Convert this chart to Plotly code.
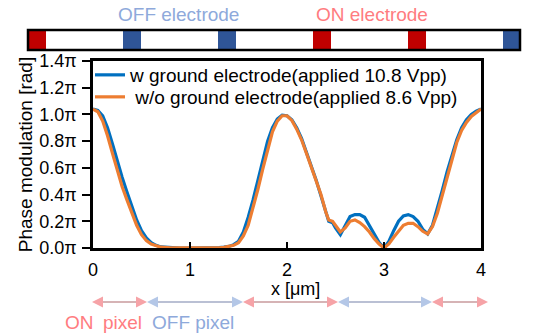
import plotly.graph_objects as go

# Position along the device [um]
x_um = [0.00, 0.05, 0.10, 0.15, 0.20, 0.25, 0.30, 0.35, 0.40, 0.45,
        0.50, 0.55, 0.60, 0.65, 0.70, 0.80, 0.90, 1.00, 1.10, 1.20,
        1.30, 1.35, 1.40, 1.45, 1.50, 1.55, 1.60, 1.65, 1.70, 1.75,
        1.80, 1.85, 1.90, 1.95, 2.00, 2.05, 2.10, 2.15, 2.20, 2.25,
        2.30, 2.35, 2.40, 2.43, 2.47, 2.50, 2.55, 2.60, 2.65, 2.70,
        2.75, 2.80, 2.85, 2.90, 2.95, 3.00, 3.05, 3.10, 3.15, 3.20,
        3.25, 3.30, 3.35, 3.40, 3.45, 3.50, 3.55, 3.60, 3.65, 3.70,
        3.75, 3.80, 3.85, 3.90, 3.95, 4.00]

# Phase modulation in units of pi
phase_with_ground = [1.04, 1.03, 0.99, 0.90, 0.78, 0.65, 0.53, 0.42, 0.31, 0.21,
                     0.13, 0.075, 0.04, 0.02, 0.008, 0.002, 0.0, 0.0, 0.0, 0.0,
                     0.003, 0.006, 0.012, 0.025, 0.05, 0.12, 0.23, 0.36, 0.50, 0.66,
                     0.80, 0.90, 0.965, 0.995, 0.99, 0.96, 0.90, 0.82, 0.72, 0.62,
                     0.51, 0.39, 0.26, 0.20, 0.19, 0.15, 0.10, 0.17, 0.235, 0.25,
                     0.25, 0.23, 0.17, 0.10, 0.04, 0.0, 0.05, 0.13, 0.20, 0.24,
                     0.25, 0.235, 0.20, 0.14, 0.105, 0.17, 0.29, 0.43, 0.57, 0.70,
                     0.81, 0.90, 0.96, 1.00, 1.025, 1.04]

phase_without_ground = [1.04, 1.02, 0.95, 0.84, 0.71, 0.58, 0.46, 0.36, 0.26, 0.17,
                        0.10, 0.055, 0.03, 0.015, 0.006, 0.001, 0.0, 0.0, 0.0, 0.0,
                        0.002, 0.005, 0.01, 0.02, 0.04, 0.09, 0.17, 0.30, 0.44, 0.59,
                        0.74, 0.87, 0.95, 0.99, 0.99, 0.955, 0.89, 0.81, 0.71, 0.61,
                        0.51, 0.40, 0.27, 0.21, 0.20, 0.17, 0.12, 0.15, 0.20, 0.21,
                        0.19, 0.16, 0.12, 0.07, 0.03, 0.0, 0.03, 0.08, 0.13, 0.17,
                        0.185, 0.185, 0.16, 0.125, 0.105, 0.16, 0.26, 0.39, 0.53, 0.67,
                        0.79, 0.88, 0.94, 0.985, 1.015, 1.04]

series_names = ["w ground electrode(applied 10.8 Vpp)",
                " w/o ground electrode(applied 8.6 Vpp)"]

y_ticks = [0.0, 0.2, 0.4, 0.6, 0.8, 1.0, 1.2, 1.4]
x_ticks = [0, 1, 2, 3, 4]

# Electrode sequence in the strip above the plot
electrode_states = ["ON", "OFF", "OFF", "ON", "ON", "OFF"]
# Pixel sequence marked by the arrows below the axis
pixel_states = ["ON", "OFF", "ON", "OFF", "ON"]

W, H = 542, 336
ML, MR, MT, MB = 93, 61, 61, 88
PW, PH = W - ML - MR, H - MT - MB


def px_x(p):
    return (p - ML) / PW


def px_y(p):
    return (H - MB - p) / PH


BLUE = "#0070C0"
ORANGE = "#ED7D31"
ON_RED = "#C00000"
OFF_BLUE = "#2F5597"
ON_TEXT = "#FF7C80"
OFF_TEXT = "#8EA9DB"

fig = go.Figure()
fig.add_trace(go.Scatter(x=x_um, y=phase_with_ground, mode="lines",
                         name=series_names[0], legend="legend",
                         line=dict(color=BLUE, width=3.2)))
fig.add_trace(go.Scatter(x=x_um, y=phase_without_ground, mode="lines",
                         name=series_names[1], legend="legend2",
                         line=dict(color=ORANGE, width=3.2)))

shapes = []
# electrode strip
strip_l, strip_r, strip_t, strip_b = 28, 520, 30, 50
pitch, ew = 95, 18
for i, st in enumerate(electrode_states):
    l = strip_l + i * pitch
    shapes.append(dict(type="rect", xref="paper", yref="paper",
                       x0=px_x(l), x1=px_x(min(l + ew, strip_r)),
                       y0=px_y(strip_b), y1=px_y(strip_t),
                       fillcolor=ON_RED if st == "ON" else OFF_BLUE,
                       line=dict(width=0), layer="above"))
shapes.append(dict(type="rect", xref="paper", yref="paper",
                   x0=px_x(strip_l), x1=px_x(strip_r),
                   y0=px_y(strip_b), y1=px_y(strip_t),
                   line=dict(color="black", width=2.5), layer="above"))

# pixel arrows
bounds = [92, 147, 243, 338, 432, 488]
ay = 302
head_l, head_h = 11, 5.5
for i, st in enumerate(pixel_states):
    a, b = bounds[i], bounds[i + 1]
    lc = "#C99A9C" if st == "ON" else "#A3ABC6"
    hc = "#F6A3A7" if st == "ON" else "#B4C7E7"
    shapes.append(dict(type="line", xref="paper", yref="paper",
                       x0=px_x(a + 2), x1=px_x(b - 2), y0=px_y(ay), y1=px_y(ay),
                       line=dict(color=lc, width=1.5)))
    left_head = "M {} {} L {} {} L {} {} Z".format(
        px_x(a), px_y(ay), px_x(a + head_l), px_y(ay - head_h),
        px_x(a + head_l), px_y(ay + head_h))
    right_head = "M {} {} L {} {} L {} {} Z".format(
        px_x(b), px_y(ay), px_x(b - head_l), px_y(ay - head_h),
        px_x(b - head_l), px_y(ay + head_h))
    for p in (left_head, right_head):
        shapes.append(dict(type="path", xref="paper", yref="paper", path=p,
                           fillcolor=hc, line=dict(width=0)))

font_main = "Arial, Liberation Sans, sans-serif"
annotations = [
    dict(text="OFF electrode", x=px_x(178), y=px_y(15), font=dict(size=19, color=OFF_TEXT)),
    dict(text="ON electrode", x=px_x(372), y=px_y(15), font=dict(size=19, color=ON_TEXT)),
    dict(text="ON", x=px_x(79), y=px_y(322), font=dict(size=19, color=ON_TEXT)),
    dict(text="pixel", x=px_x(122), y=px_y(322), font=dict(size=19, color=ON_TEXT)),
    dict(text="OFF pixel", x=px_x(193), y=px_y(322), font=dict(size=19, color=OFF_TEXT)),
    dict(text="x [μm]", x=px_x(295), y=px_y(289), font=dict(size=18)),
]
for an in annotations:
    an.update(xref="paper", yref="paper", showarrow=False,
              xanchor="center", yanchor="middle")

legend_style = dict(xanchor="left", yanchor="middle", bgcolor="rgba(0,0,0,0)",
                    font=dict(size=19), itemwidth=30, borderwidth=0)

fig.update_layout(
    width=W, height=H,
    margin=dict(l=ML, r=MR, t=MT, b=MB, pad=0),
    paper_bgcolor="white", plot_bgcolor="white",
    font=dict(family=font_main, color="black"),
    showlegend=True,
    legend=dict(x=px_x(90), y=px_y(75), **legend_style),
    legend2=dict(x=px_x(90), y=px_y(97), **legend_style),
    shapes=shapes,
    annotations=annotations,
    xaxis=dict(range=[0, 4], tickvals=x_ticks, ticktext=[str(v) for v in x_ticks],
               showline=True, linecolor="black", linewidth=2.5, mirror=True,
               ticks="inside", ticklen=6, tickwidth=2, tickcolor="black",
               ticklabelstandoff=4,
               showgrid=False, zeroline=False, tickfont=dict(size=18)),
    yaxis=dict(range=[0, 1.4], tickvals=y_ticks,
               ticktext=["{:.1f}π".format(v) for v in y_ticks],
               showline=True, linecolor="black", linewidth=2.5, mirror=True,
               ticks="outside", ticklen=8, tickwidth=2, tickcolor="black",
               ticklabelstandoff=2,
               showgrid=False, zeroline=False, tickfont=dict(size=18),
               title=dict(text="Phase modulation [rad]", font=dict(size=19), standoff=2)),
)

fig.write_html("out.html")
